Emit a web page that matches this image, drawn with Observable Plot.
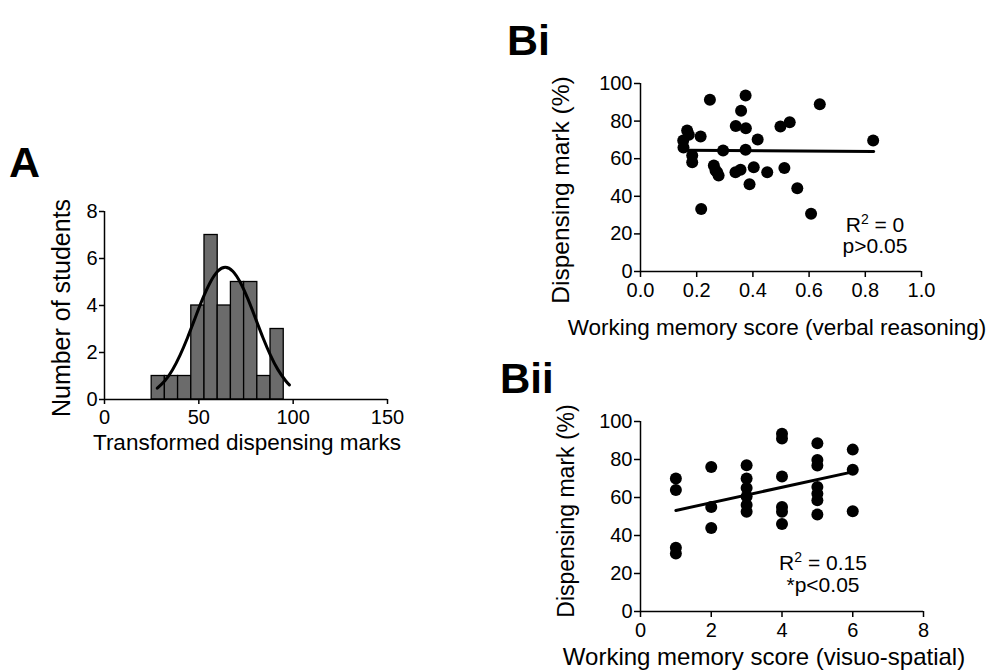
<!DOCTYPE html>
<html><head><meta charset="utf-8">
<script src="https://cdn.jsdelivr.net/npm/d3@7"></script>
<script src="https://cdn.jsdelivr.net/npm/@observablehq/plot@0.6"></script>
<style>
html,body{margin:0;padding:0;background:#fff;}
#root{position:relative;width:993px;height:672px;overflow:hidden;background:#fff;font-family:"Liberation Sans",Arial,sans-serif;}
.panel{position:absolute;}
.panel svg{display:block;}
</style></head><body><div id="root"></div>
<script>
// ---------- Panel A: histogram of transformed dispensing marks ----------
const histBinStart = [25, 32, 39, 46, 53, 60, 67, 74, 81, 88];
const histBinWidth = 7;
const histCounts = [1, 1, 1, 4, 7, 4, 5, 5, 1, 3];
// fitted normal curve
const curveX = [28, 32, 36, 40, 44, 48, 52, 56, 60, 64, 68, 72, 76, 80, 84, 88, 92, 96, 98];
const curveY = [0.48, 0.80, 1.26, 1.88, 2.63, 3.46, 4.28, 4.98, 5.46, 5.63, 5.46, 4.98, 4.28, 3.46, 2.63, 1.88, 1.26, 0.80, 0.62];
const histXTicks = [0, 50, 100, 150];
const histYTicks = [0, 2, 4, 6, 8];

// ---------- Panel Bi: verbal reasoning ----------
const biX = [0.247,0.374,0.638,0.358,0.531,0.498,0.339,0.375,0.166,0.214,0.152,0.172,0.417,0.828,0.153,0.294,0.374,0.184,0.184,0.261,0.273,0.278,0.267,0.338,0.356,0.403,0.451,0.512,0.388,0.558,0.216,0.607];
const biY = [91.3,93.6,89.0,85.5,79.4,77.1,77.4,76.2,75.0,71.8,69.7,72.8,70.2,69.7,66.0,64.4,64.8,61.7,58.1,56.4,52.8,51.0,53.7,52.8,54.1,55.5,52.8,55.0,46.4,44.3,33.3,30.7];
const biFitX = [0.16, 0.83];
const biFitY = [64.5, 63.8];
const biXTicks = [0, 0.2, 0.4, 0.6, 0.8, 1.0];
const markTicks = [0, 20, 40, 60, 80, 100];

// ---------- Panel Bii: visuo-spatial ----------
const biiX = [1,1,1,1, 2,2,2, 3,3,3,3,3,3, 4,4,4,4,4,4, 5,5,5,5,5,5,5, 6,6,6];
const biiY = [70,64,33.5,30.5, 76,55,44, 77,70,65,60.5,56,52.5, 93.5,91,71,55,52.5,46, 88.5,79.8,76.8,65.5,62,58.5,51, 85.2,74.6,52.8];
const biiFitX = [1, 6];
const biiFitY = [53.2, 73.5];
const biiXTicks = [0, 2, 4, 6, 8];

const FONT = '"Liberation Sans", Arial, sans-serif';
const root = document.getElementById("root");

function place(node, left, top) {
  const d = document.createElement("div");
  d.className = "panel";
  d.style.left = left + "px";
  d.style.top = top + "px";
  d.appendChild(node);
  root.appendChild(d);
}

const baseStyle = {fontFamily: FONT, fontSize: "20px", color: "#000", background: "transparent", overflow: "visible"};

// Panel A
const histData = histBinStart.map((s, i) => ({x1: s, x2: s + histBinWidth, y: histCounts[i]}));
const curveData = curveX.map((x, i) => ({x, y: curveY[i]}));
place(Plot.plot({
  width: 420, height: 270,
  marginLeft: 104, marginRight: 33, marginTop: 21, marginBottom: 61,
  style: baseStyle,
  x: {domain: [0, 150]},
  y: {domain: [0, 8]},
  marks: [
    Plot.rectY(histData, {x1: "x1", x2: "x2", y: "y", fill: "#6b6b6b", stroke: "#000", strokeWidth: 1.3}),
    Plot.line(curveData, {x: "x", y: "y", curve: "natural", stroke: "#000", strokeWidth: 3}),
    Plot.ruleY([0], {stroke: "#000", strokeWidth: 1.5}),
    Plot.ruleX([0], {stroke: "#000", strokeWidth: 1.5}),
    Plot.axisX({ticks: histXTicks, tickSize: 5, tickPadding: 5, label: null, strokeWidth: 1.5}),
    Plot.axisY({ticks: histYTicks, tickSize: 5, tickPadding: 2, label: null, strokeWidth: 1.5})
  ]
}), 0, 190);

// Panel Bi
const biData = biX.map((x, i) => ({x, y: biY[i]}));
const biFit = biFitX.map((x, i) => ({x, y: biFitY[i]}));
place(Plot.plot({
  width: 473, height: 260,
  marginLeft: 120, marginRight: 72, marginTop: 23, marginBottom: 49,
  style: baseStyle,
  x: {domain: [0, 1]},
  y: {domain: [0, 100]},
  marks: [
    Plot.dot(biData, {x: "x", y: "y", r: 6, fill: "#000", stroke: "none"}),
    Plot.line(biFit, {x: "x", y: "y", stroke: "#000", strokeWidth: 3}),
    Plot.ruleY([0], {stroke: "#000", strokeWidth: 1.5}),
    Plot.ruleX([0], {stroke: "#000", strokeWidth: 1.5}),
    Plot.axisX({ticks: biXTicks, tickFormat: d3.format(".1f"), tickSize: 6, tickPadding: 5, label: null, strokeWidth: 1.5}),
    Plot.axisY({ticks: markTicks, tickSize: 6, tickPadding: 2, label: null, strokeWidth: 1.5})
  ]
}), 520, 60);

// Panel Bii
const biiData = biiX.map((x, i) => ({x, y: biiY[i]}));
const biiFit = biiFitX.map((x, i) => ({x, y: biiFitY[i]}));
place(Plot.plot({
  width: 473, height: 260,
  marginLeft: 120, marginRight: 70, marginTop: 21, marginBottom: 49,
  style: baseStyle,
  x: {domain: [0, 8]},
  y: {domain: [0, 100]},
  marks: [
    Plot.dot(biiData, {x: "x", y: "y", r: 6, fill: "#000", stroke: "none"}),
    Plot.line(biiFit, {x: "x", y: "y", stroke: "#000", strokeWidth: 3}),
    Plot.ruleY([0], {stroke: "#000", strokeWidth: 1.5}),
    Plot.ruleX([0], {stroke: "#000", strokeWidth: 1.5}),
    Plot.axisX({ticks: biiXTicks, tickSize: 6, tickPadding: 5, label: null, strokeWidth: 1.5}),
    Plot.axisY({ticks: markTicks, tickSize: 6, tickPadding: 2, label: null, strokeWidth: 1.5})
  ]
}), 520, 400);

// ---------- Text overlay: panel letters, axis titles, statistics ----------
const ov = d3.create("svg").attr("width", 993).attr("height", 672)
  .style("position", "absolute").style("left", 0).style("top", 0)
  .style("pointer-events", "none").style("font-family", FONT);

function txt(s, x, y, size, opts = {}) {
  const t = ov.append("text").attr("x", x).attr("y", y).attr("font-size", size).attr("fill", "#000")
    .attr("text-anchor", opts.anchor || "middle");
  if (opts.bold) t.attr("font-weight", "bold");
  if (opts.rotate) t.attr("transform", `rotate(-90 ${x} ${y})`);
  t.text(s);
  return t;
}
// panel letters
txt("A", 9, 177, 43, {bold: true, anchor: "start"});
txt("Bi", 507, 55, 43, {bold: true, anchor: "start"});
txt("Bii", 500, 393, 42, {bold: true, anchor: "start"});
// axis titles
txt("Transformed dispensing marks", 247, 450, 22.5);
txt("Number of students", 70, 308, 25, {rotate: true});
txt("Working memory score (verbal reasoning)", 777, 335, 22.5);
txt("Dispensing mark (%)", 569, 190, 24.5, {rotate: true});
txt("Working memory score (visuo-spatial)", 764, 665, 24);
txt("Dispensing mark (%)", 574, 511, 23, {rotate: true});

function rsq(x, y, val) {
  const t = ov.append("text").attr("x", x).attr("y", y).attr("font-size", 21).attr("fill", "#000").attr("text-anchor", "middle");
  t.append("tspan").text("R");
  t.append("tspan").attr("dy", -8).attr("font-size", 14).text("2");
  t.append("tspan").attr("dy", 8).text(" = " + val);
}
rsq(875, 232, "0");
txt("p>0.05", 875, 253, 21);
rsq(823, 570, "0.15");
txt("*p<0.05", 823, 592, 21);

root.appendChild(ov.node());
</script>
</body></html>
